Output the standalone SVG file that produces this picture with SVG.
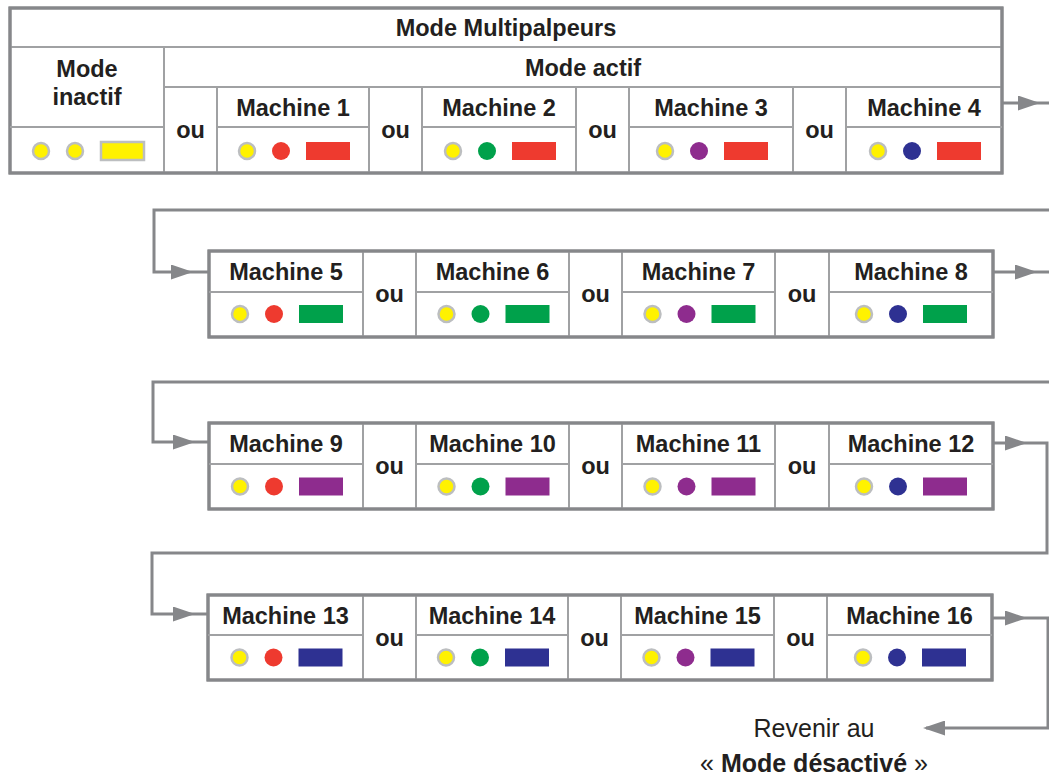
<svg xmlns="http://www.w3.org/2000/svg" width="1049" height="778" viewBox="0 0 1049 778">
<style>
.t{font-family:"Liberation Sans",Arial,sans-serif;font-weight:bold;font-size:23.5px;fill:#231f20;text-anchor:middle}
.r{font-family:"Liberation Sans",Arial,sans-serif;font-size:25px;fill:#231f20;text-anchor:middle}
.frame{fill:#fff;stroke:#86878a;stroke-width:3}
.ln{stroke:#a0a1a3;stroke-width:2;fill:none}
.y{fill:#fff200;stroke:#bcbec0;stroke-width:2.5}
.yr{fill:#fff200;stroke:#bcbec0;stroke-width:2.5}
.red{fill:#ee3a2f}.grn{fill:#00a14b}.pur{fill:#8e2c8e}.blu{fill:#2e3192}
.conn{fill:none;stroke:#86878a;stroke-width:3;marker-end:url(#arr)}
</style>
<defs>
<marker id="arr" viewBox="0 0 22 15" refX="19" refY="7.5" markerWidth="22" markerHeight="15" markerUnits="userSpaceOnUse" orient="auto"><path d="M0,0 L22,7.5 L0,15 Z" fill="#86878a"/></marker>
</defs>
<rect width="1049" height="778" fill="#fff"/>

<!-- Row 1 frame -->
<g id="mode-multipalpeurs">
<rect class="frame" x="10" y="8" width="992" height="165"/>
<path class="ln" d="M10,47 H1002 M164,87 H1002 M164,47 V173 M217,87 V173 M369,87 V173 M422,87 V173 M576,87 V173 M629,87 V173 M793,87 V173 M846,87 V173"/>
<rect x="10" y="8" width="992" height="165" fill="none" stroke="#86878a" stroke-width="3"/>
<text class="t" x="506" y="35.5">Mode Multipalpeurs</text>
<text class="t" x="583" y="75.5">Mode actif</text>
<text class="t" x="190.5" y="138">ou</text>
<text class="t" x="395.5" y="138">ou</text>
<text class="t" x="602.5" y="138">ou</text>
<text class="t" x="819.5" y="138">ou</text>
</g>
<g id="mode-inactif">
<text class="t" x="87" y="76.5">Mode</text>
<text class="t" x="87" y="105">inactif</text>
<path class="ln" d="M10,127 H164"/>
<circle class="y" cx="41" cy="151" r="8"/>
<circle class="y" cx="75" cy="151" r="8"/>
<rect class="y" x="101" y="142" width="43" height="18"/>
</g>
<g id="machine-1"><path class="ln" d="M217,127 H369"/><text class="t" x="293" y="115.5">Machine 1</text><circle class="y" cx="247" cy="151" r="8"/><circle class="red" cx="281" cy="151" r="9"/><rect class="red" x="306" y="142" width="44" height="18"/></g>
<g id="machine-2"><path class="ln" d="M422,127 H576"/><text class="t" x="499" y="115.5">Machine 2</text><circle class="y" cx="453" cy="151" r="8"/><circle class="grn" cx="487" cy="151" r="9"/><rect class="red" x="512" y="142" width="44" height="18"/></g>
<g id="machine-3"><path class="ln" d="M629,127 H793"/><text class="t" x="711" y="115.5">Machine 3</text><circle class="y" cx="665" cy="151" r="8"/><circle class="pur" cx="699" cy="151" r="9"/><rect class="red" x="724" y="142" width="44" height="18"/></g>
<g id="machine-4"><path class="ln" d="M846,127 H1002"/><text class="t" x="924" y="115.5">Machine 4</text><circle class="y" cx="878" cy="151" r="8"/><circle class="blu" cx="912" cy="151" r="9"/><rect class="red" x="937" y="142" width="44" height="18"/></g>

<!-- Row 2 -->
<g id="row-2">
<rect class="frame" x="209" y="251" width="784" height="86"/>
<path class="ln" d="M363,251 V337 M416,251 V337 M569,251 V337 M622,251 V337 M775,251 V337 M829,251 V337"/>
<rect x="209" y="251" width="784" height="86" fill="none" stroke="#86878a" stroke-width="3"/>
<text class="t" x="389.5" y="302">ou</text>
<text class="t" x="595.5" y="302">ou</text>
<text class="t" x="802" y="302">ou</text>
</g>
<g id="machine-5"><path class="ln" d="M209,292 H363"/><text class="t" x="286" y="280">Machine 5</text><circle class="y" cx="240" cy="314" r="8"/><circle class="red" cx="274" cy="314" r="9"/><rect class="grn" x="299" y="305" width="44" height="18"/></g>
<g id="machine-6"><path class="ln" d="M416,292 H569"/><text class="t" x="492.5" y="280">Machine 6</text><circle class="y" cx="446.5" cy="314" r="8"/><circle class="grn" cx="480.5" cy="314" r="9"/><rect class="grn" x="505.5" y="305" width="44" height="18"/></g>
<g id="machine-7"><path class="ln" d="M622,292 H775"/><text class="t" x="698.5" y="280">Machine 7</text><circle class="y" cx="652.5" cy="314" r="8"/><circle class="pur" cx="686.5" cy="314" r="9"/><rect class="grn" x="711.5" y="305" width="44" height="18"/></g>
<g id="machine-8"><path class="ln" d="M829,292 H993"/><text class="t" x="911" y="280">Machine 8</text><circle class="y" cx="864" cy="314" r="8"/><circle class="blu" cx="898" cy="314" r="9"/><rect class="grn" x="923" y="305" width="44" height="18"/></g>

<!-- Row 3 -->
<g id="row-3">
<rect class="frame" x="209" y="423" width="784" height="86"/>
<path class="ln" d="M363,423 V509 M416,423 V509 M569,423 V509 M622,423 V509 M775,423 V509 M829,423 V509"/>
<rect x="209" y="423" width="784" height="86" fill="none" stroke="#86878a" stroke-width="3"/>
<text class="t" x="389.5" y="474">ou</text>
<text class="t" x="595.5" y="474">ou</text>
<text class="t" x="802" y="474">ou</text>
</g>
<g id="machine-9"><path class="ln" d="M209,464 H363"/><text class="t" x="286" y="452">Machine 9</text><circle class="y" cx="240" cy="486.5" r="8"/><circle class="red" cx="274" cy="486.5" r="9"/><rect class="pur" x="299" y="477.5" width="44" height="18"/></g>
<g id="machine-10"><path class="ln" d="M416,464 H569"/><text class="t" x="492.5" y="452">Machine 10</text><circle class="y" cx="446.5" cy="486.5" r="8"/><circle class="grn" cx="480.5" cy="486.5" r="9"/><rect class="pur" x="505.5" y="477.5" width="44" height="18"/></g>
<g id="machine-11"><path class="ln" d="M622,464 H775"/><text class="t" x="698.5" y="452">Machine 11</text><circle class="y" cx="652.5" cy="486.5" r="8"/><circle class="pur" cx="686.5" cy="486.5" r="9"/><rect class="pur" x="711.5" y="477.5" width="44" height="18"/></g>
<g id="machine-12"><path class="ln" d="M829,464 H993"/><text class="t" x="911" y="452">Machine 12</text><circle class="y" cx="864" cy="486.5" r="8"/><circle class="blu" cx="898" cy="486.5" r="9"/><rect class="pur" x="923" y="477.5" width="44" height="18"/></g>

<!-- Row 4 -->
<g id="row-4">
<rect class="frame" x="208" y="595" width="784" height="85"/>
<path class="ln" d="M363,595 V680 M416,595 V680 M568,595 V680 M621,595 V680 M774,595 V680 M827,595 V680"/>
<rect x="208" y="595" width="784" height="85" fill="none" stroke="#86878a" stroke-width="3"/>
<text class="t" x="389.5" y="646">ou</text>
<text class="t" x="594.5" y="646">ou</text>
<text class="t" x="800.5" y="646">ou</text>
</g>
<g id="machine-13"><path class="ln" d="M208,635 H363"/><text class="t" x="285.5" y="623.5">Machine 13</text><circle class="y" cx="239.5" cy="657.5" r="8"/><circle class="red" cx="273.5" cy="657.5" r="9"/><rect class="blu" x="298.5" y="648.5" width="44" height="18"/></g>
<g id="machine-14"><path class="ln" d="M416,635 H568"/><text class="t" x="492" y="623.5">Machine 14</text><circle class="y" cx="446" cy="657.5" r="8"/><circle class="grn" cx="480" cy="657.5" r="9"/><rect class="blu" x="505" y="648.5" width="44" height="18"/></g>
<g id="machine-15"><path class="ln" d="M621,635 H774"/><text class="t" x="697.5" y="623.5">Machine 15</text><circle class="y" cx="651.5" cy="657.5" r="8"/><circle class="pur" cx="685.5" cy="657.5" r="9"/><rect class="blu" x="710.5" y="648.5" width="44" height="18"/></g>
<g id="machine-16"><path class="ln" d="M827,635 H992"/><text class="t" x="909.5" y="623.5">Machine 16</text><circle class="y" cx="863" cy="657.5" r="8"/><circle class="blu" cx="897" cy="657.5" r="9"/><rect class="blu" x="922" y="648.5" width="44" height="18"/></g>

<g id="revenir">
<text class="r" x="814" y="737">Revenir au</text>
<text class="r" x="814" y="772">« <tspan font-weight="bold">Mode désactivé</tspan> »</text>
</g>

<g id="connectors">
<path class="conn" d="M1002,103 H1049 M1002,103 H1037"/>
<path class="conn" d="M190,272 H209 M1049,210 H154 V272 H190"/>
<path class="conn" d="M993,272 H1049 M993,272 H1034"/>
<path class="conn" d="M192,442 H209 M1049,382 H153 V442 H192"/>
<path class="conn" d="M993,443 H1024"/>
<path class="conn" d="M192,614 H208 M1024,443 H1047 V553 H152 V614 H192"/>
<path class="conn" d="M992,618 H1024"/>
<path class="conn" d="M1024,618 H1048 V728 H926"/>
</g>
</svg>
